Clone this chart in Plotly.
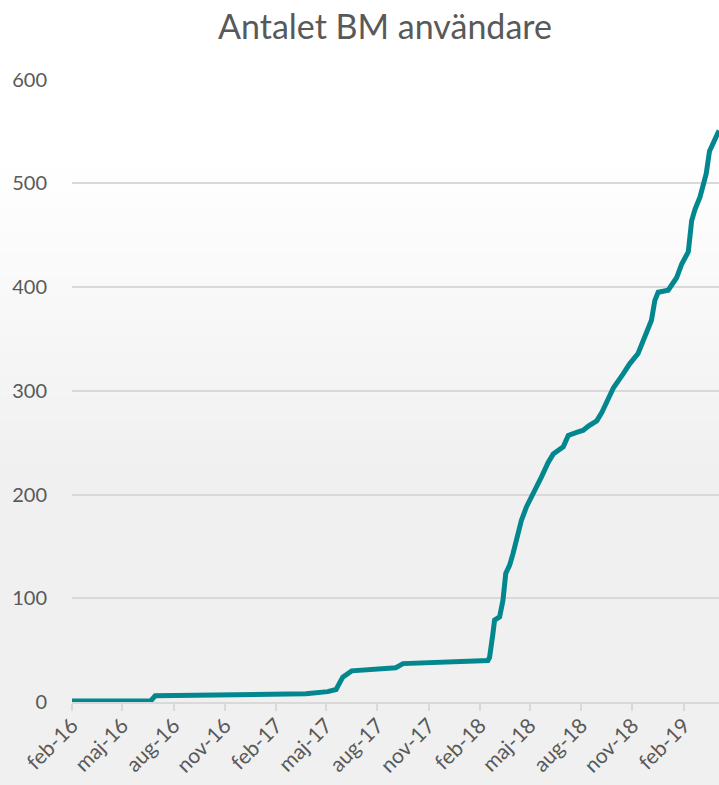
import plotly.graph_objects as go

# Data
dates = [
    "2016-02-01", "2016-06-21", "2016-06-29", "2017-03-26", "2017-05-04", "2017-05-19",
    "2017-05-31", "2017-06-16", "2017-09-03", "2017-09-16", "2018-02-15", "2018-02-18",
    "2018-02-24", "2018-02-27", "2018-03-08", "2018-03-14", "2018-03-19", "2018-03-26",
    "2018-04-01", "2018-04-07", "2018-04-16", "2018-04-25", "2018-05-04", "2018-05-13",
    "2018-05-22", "2018-06-03", "2018-06-12", "2018-06-30", "2018-07-09", "2018-07-24",
    "2018-08-05", "2018-08-14", "2018-08-29", "2018-09-07", "2018-09-16", "2018-09-28",
    "2018-10-15", "2018-10-27", "2018-11-11", "2018-11-23", "2018-12-05", "2018-12-11",
    "2018-12-17", "2019-01-04", "2019-01-19", "2019-01-28", "2019-02-09", "2019-02-15",
    "2019-02-21", "2019-03-02", "2019-03-07", "2019-03-13", "2019-03-19", "2019-03-28",
    "2019-04-05",
]
users = [
    1, 1, 6, 8, 10, 12,
    24, 30, 33, 37, 40, 43,
    66, 79, 82, 98, 124, 132,
    143, 156, 175, 188, 197, 207,
    217, 231, 239, 246, 257, 260,
    262, 266, 271, 279, 290, 303,
    316, 326, 336, 352, 368, 387,
    395, 397, 409, 422, 434, 464,
    475, 487, 499, 509, 531, 543,
    551,
]

tick_dates = [
    "2016-02-01", "2016-05-01", "2016-08-01", "2016-11-01", "2017-02-01", "2017-05-01",
    "2017-08-01", "2017-11-01", "2018-02-01", "2018-05-01", "2018-08-01", "2018-11-01",
    "2019-02-01",
]
tick_labels = [
    "feb-16", "maj-16", "aug-16", "nov-16", "feb-17", "maj-17", "aug-17", "nov-17",
    "feb-18", "maj-18", "aug-18", "nov-18", "feb-19",
]
y_ticks = [0, 100, 200, 300, 400, 500, 600]

title_text = "Antalet BM användare"

fig = go.Figure()
fig.add_trace(go.Scatter(
    x=dates, y=users, mode="lines",
    line=dict(color="#02878f", width=5),
    hoverinfo="x+y",
    showlegend=False,
))

# Background gradient (white at top to light gray) built from thin bands
W, H = 719, 785
left, top, bottom = 72, 79, 702
plot_h = bottom - top
plot_w = W - left
shapes = []
step = 6
for p in range(0, H, step):
    mid = p + step / 2
    if mid < 160:
        v = 255
    elif mid < 470:
        v = 255 - (255 - 240) * (mid - 160) / 310
    else:
        v = 240
    v = int(round(v))
    shapes.append(dict(
        type="rect", xref="paper", yref="paper", layer="below",
        x0=-left / plot_w - 0.05, x1=1.05,
        y0=(bottom - (p + step)) / plot_h, y1=(bottom - p) / plot_h,
        fillcolor=f"rgb({v},{v},{v})", line=dict(width=0),
    ))

fig.update_layout(
    width=W, height=H,
    margin=dict(l=left, r=0, t=top, b=H - bottom, autoexpand=False),
    paper_bgcolor="rgb(240,240,240)",
    plot_bgcolor="rgba(0,0,0,0)",
    shapes=shapes,
    font=dict(family="Lato, 'Open Sans', sans-serif", color="#595959"),
    title=dict(
        text=title_text, x=385 / W, xanchor="center", y=1 - 27 / H, yanchor="middle",
        font=dict(size=34, color="#595959", family="Lato, 'Open Sans', sans-serif"),
    ),
    xaxis=dict(
        type="date",
        range=["2016-02-01", "2019-04-05"],
        tickvals=tick_dates, ticktext=tick_labels,
        tickangle=-45,
        tickfont=dict(size=21, color="#595959"),
        showgrid=False,
        showline=True, linecolor="#d9d9d9", linewidth=2,
        ticks="outside", ticklen=7, tickcolor="#d9d9d9", tickwidth=1.5,
        ticklabelstandoff=-6,
        zeroline=False, automargin=False,
    ),
    yaxis=dict(
        range=[0, 600.6],
        tickvals=y_ticks,
        tickfont=dict(size=20, color="#595959"),
        showgrid=True, gridcolor="#d9d9d9", gridwidth=2,
        zeroline=False, showline=False,
        ticks="", ticklabelstandoff=24, automargin=False,
    ),
)

fig.write_html(
    "out.html",
    config={"displayModeBar": False},
    post_script="document.body.style.margin='0';document.body.style.overflow='hidden';",
)
